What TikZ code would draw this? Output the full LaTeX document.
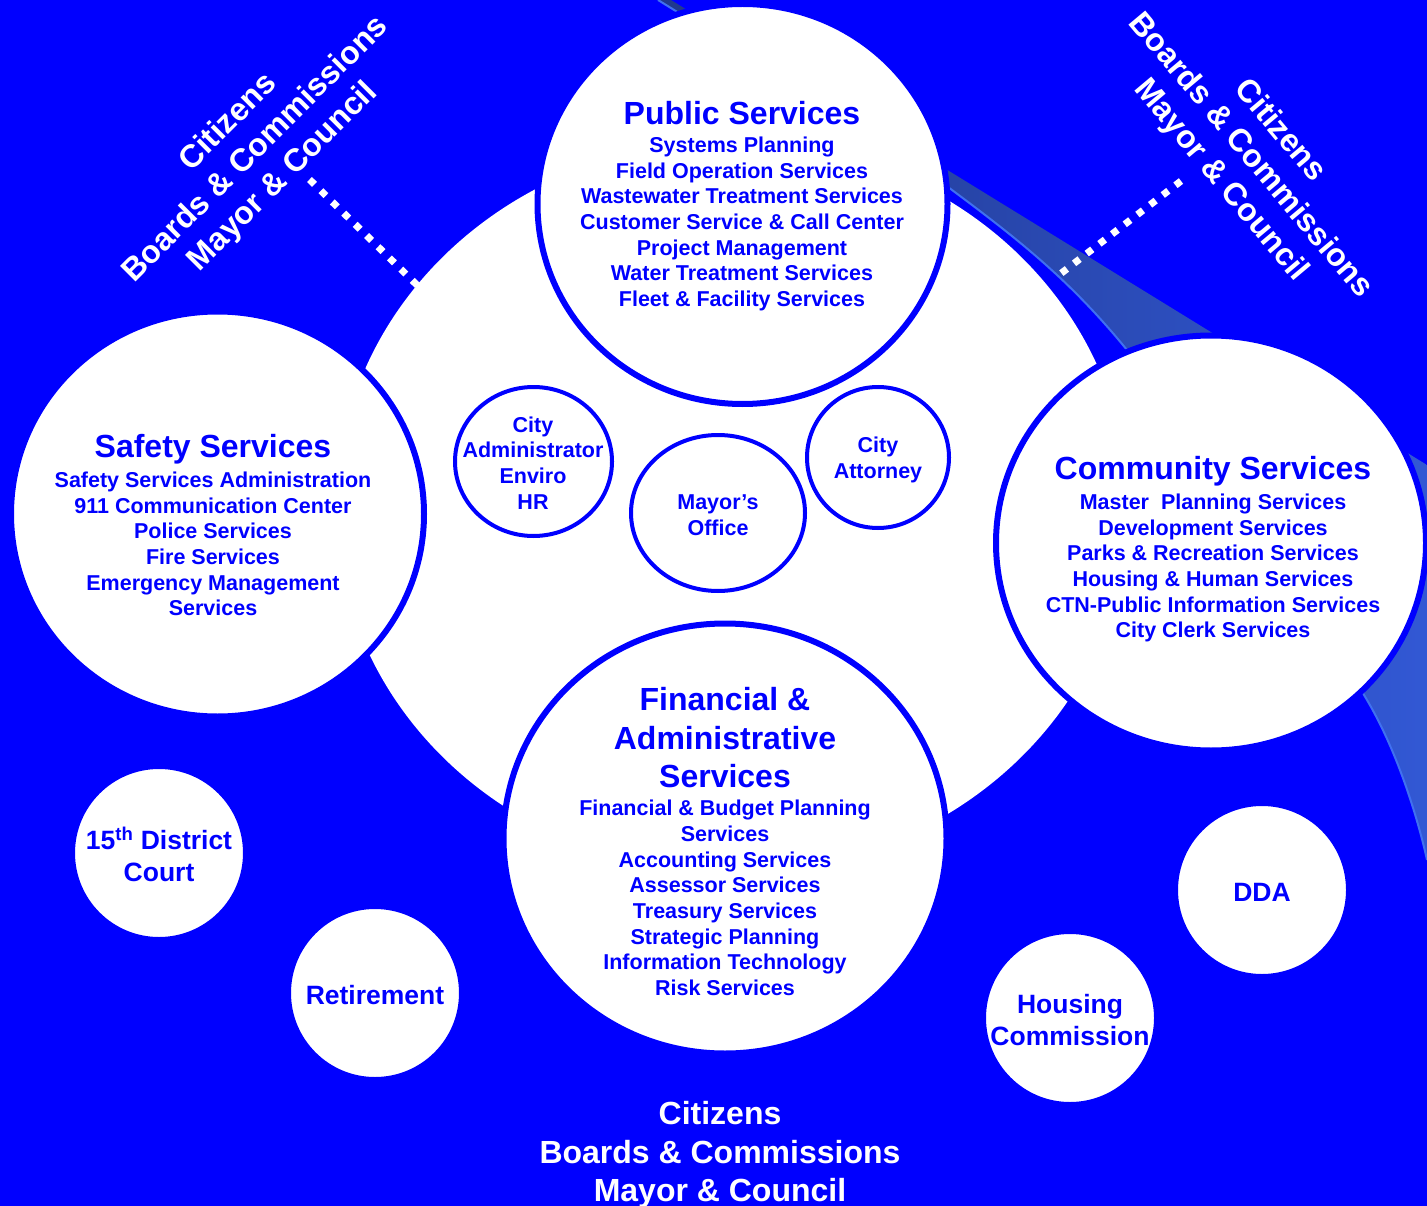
\documentclass[tikz,border=0pt]{standalone}
\usepackage{fontspec}
\setmainfont{Liberation Sans}
\usetikzlibrary{shapes.geometric}
\definecolor{bgblue}{RGB}{0,0,255}
\definecolor{swdark}{RGB}{32,56,140}
\definecolor{swlight}{RGB}{50,88,212}
\definecolor{swline}{RGB}{64,112,240}
\begin{document}
\begin{tikzpicture}[x=1pt,y=-1pt,
		dept/.style={ellipse, draw=bgblue, fill=white, line width=6pt, inner sep=0pt},
		office/.style={ellipse, draw=bgblue, fill=white, line width=4pt, inner sep=0pt},
		head/.style={text=bgblue, align=center, font=\bfseries\fontsize{32}{38.5}\selectfont},
		item/.style={text=bgblue, align=center, font=\bfseries\fontsize{21.5}{25.7}\selectfont},
		mid/.style={text=bgblue, align=center, font=\bfseries\fontsize{26.5}{32}\selectfont},
		voice/.style={text=white, align=center, font=\bfseries\fontsize{32}{38.5}\selectfont},
		link/.style={white, line width=7pt, dash pattern=on 7pt off 9pt}]
		\useasboundingbox (0,0) rectangle (1427,1206);
		\fill[bgblue] (0,0) rectangle (1427,1206);
	
		\shade[left color=swdark, right color=swlight] (658,0) -- (671,0) -- (1427,465) -- (1427,860)
			-- plot[smooth] coordinates {(1427,860) (1367,700) (1127,350) (952,190) (658,0)} -- cycle;
		\draw[swline, line width=2pt] plot[smooth] coordinates {(1427,860) (1367,700) (1127,350) (952,190) (658,0)};
	
		\coordinate (ltail) at (309.5,179.5);
		\coordinate (lhead) at (417.5,285.5);
		\coordinate (rtail) at (1181,181);
		\coordinate (rhead) at (1060.5,273.8);
		\draw[link] (ltail) -- (lhead);
		\draw[link] (rtail) -- (rhead);
	
		\node[dept, draw=none, minimum width=792, minimum height=732] (core) at (732,507) {};
	
		\node[dept, minimum width=410, minimum height=400] (public) at (742.5,204) {};
		\node[dept, minimum width=413, minimum height=405] (safety) at (217.5,514) {};
		\node[dept, minimum width=430, minimum height=415] (community) at (1211,543) {};
		\node[dept, minimum width=443, minimum height=430] (finance) at (725,838.5) {};
	
		\node[office, minimum width=157, minimum height=149] (admin) at (533.5,461.5) {};
		\node[office, minimum width=174, minimum height=156] (mayor) at (718,513) {};
		\node[office, minimum width=142, minimum height=141] (attorney) at (878,457.5) {};
	
		\node[office, minimum size=172] (court) at (159,853) {};
		\node[office, minimum size=172] (retire) at (375,993) {};
		\node[office, minimum size=172] (housing) at (1070,1018) {};
		\node[office, minimum size=172] (dda) at (1262,890) {};
	
		\node[head] (publichead) at (742,113) {Public Services};
		\node[item] (publicitems) at (742,224) {Systems Planning\\Field Operation Services\\Wastewater Treatment Services\\Customer Service \& Call Center\\Project Management\\Water Treatment Services\\Fleet \& Facility Services};
	
		\node[head] (safetyhead) at (213,449) {Safety Services};
		\node[item] (safetyitems) at (213,544) {Safety Services Administration\\911 Communication Center\\Police Services\\Fire Services\\Emergency Management\\Services};
	
		\node[head] (communityhead) at (1213,471) {Community Services};
		\node[item] (communityitems) at (1213,568) {Master~ Planning Services\\Development Services\\Parks \& Recreation Services\\Housing \& Human Services\\CTN-Public Information Services\\City Clerk Services};
	
		\node[head] (financehead) at (725,738) {Financial \&\\Administrative\\Services};
		\node[item] (financeitems) at (725,898) {Financial \& Budget Planning\\Services\\Accounting Services\\Assessor Services\\Treasury Services\\Strategic Planning\\Information Technology\\Risk Services};
	
		\node[item] (admintext) at (533,463) {City\\Administrator\\Enviro\\HR};
		\node[item] (mayortext) at (718,515) {Mayor’s\\Office};
		\node[item] (attorneytext) at (878,460) {City\\Attorney};
	
		\node[mid] (courttext) at (159,854) {15\textsuperscript{th} District\\Court};
		\node[mid] (retiretext) at (375,995) {Retirement};
		\node[mid] (housingtext) at (1070,1020) {Housing\\Commission};
		\node[mid] (ddatext) at (1262,892) {DDA};
	
		\node[voice, rotate=45] (leftvoice) at (256,150) {Citizens\\Boards \& Commissions\\Mayor \& Council};
		\node[voice, rotate=-50] (rightvoice) at (1250,156) {Citizens\\Boards \& Commissions\\Mayor \& Council};
		\node[voice] (basevoice) at (720,1155) {Citizens\\Boards \& Commissions\\Mayor \& Council};
	\end{tikzpicture}
\end{document}
